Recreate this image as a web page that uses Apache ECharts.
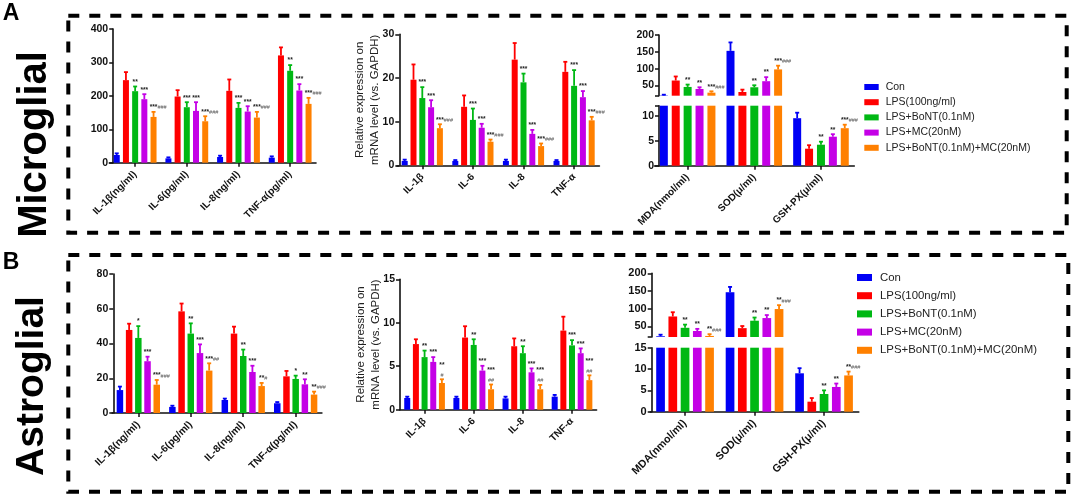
<!DOCTYPE html>
<html><head><meta charset="utf-8">
<style>html,body{margin:0;padding:0;background:#fff}#main{width:1072px;height:495px}</style>
<script src="https://cdn.jsdelivr.net/npm/echarts@6/dist/echarts.min.js"></script>
</head><body><div id="main"></div>
<script>
const groups = ['Con','LPS(100ng/ml)','LPS+BoNT(0.1nM)','LPS+MC(20nM)','LPS+BoNT(0.1nM)+MC(20nM)'];
const colors = ['#0000F5','#FF0000','#00B814','#C400E6','#FF8000'];

// Each row: one treatment group, one value per category
const a1Cats = ['IL-1β(ng/ml)','IL-6(pg/ml)','IL-8(ng/ml)','TNF-α(pg/ml)'];
const a1Vals = [[23,13,17,15],[247,198,215,321],[214,166,164,275],[190,155,153,216],[137,124,135,176]];
const a1Errs = [[28,16,21,19],[271,217,249,345],[228,181,179,292],[205,181,169,235],[152,139,152,194]];
const a1Sig  = [['','','',''],['','','',''],['**','***','***','**'],['***','***','***','***'],['***|###','***|###','***|###','***|###']];

const a2Cats = ['IL-1β','IL-6','IL-8','TNF-α'];
const a2Vals = [[1,1,1,1],[19.6,13.4,24.2,21.4],[15.4,10.4,19,18.2],[13.3,8.6,7.2,15.6],[8.5,5.4,4.4,10.3]];
const a2Errs = [[1.3,1.2,1.3,1.2],[23.1,16,28,23.7],[17.9,13,21,21.8],[14.9,9.5,8.1,17],[9.4,5.9,5,11.1]];
const a2Sig  = [['','','',''],['','','',''],['***','***','***','***'],['***','***','***','***'],['***|###','***|###','***|###','***|###']];

const a3Cats = ['MDA(nmol/ml)','SOD(μ/ml)','GSH-PX(μ/ml)'];
const a3Vals = [[21,153,9.5],[65,31,3.4],[46,45,4.2],[40,63,5.8],[29,98,7.5]];
const a3Errs = [[23,178,10.6],[77,38,4.1],[53,51,4.8],[45,75,6.3],[33,109,8.2]];
const a3Sig  = [['','',''],['','',''],['**','**','**'],['**','**','**'],['***|###','***|###','***|###']];

const b1Cats = ['IL-1β(ng/ml)','IL-6(pg/ml)','IL-8(ng/ml)','TNF-α(pg/ml)'];
const b1Vals = [[13.2,3.5,7.5,5.6],[47.8,58.5,45.7,21.1],[43.2,45.7,32.8,19.6],[29.8,34.5,23.6,16.5],[16.3,24.4,15.5,10.6]];
const b1Errs = [[15.2,4.2,8.3,6.3],[51.4,63,49.7,24.2],[50,51.6,36.5,21.5],[32.4,39.5,27.2,19.4],[19,28.6,17.3,12.3]];
const b1Sig  = [['','','',''],['','','',''],['*','**','**','*'],['***','***','***','**'],['***|###','***|##','**|#','**|###']];

const b2Cats = ['IL-1β','IL-6','IL-8','TNF-α'];
const b2Vals = [[1.35,1.35,1.3,1.5],[7.55,8.3,7.3,9.1],[6.05,7.45,6.5,7.4],[5.5,4.5,4.3,6.5],[3.07,2.35,2.35,3.4]];
const b2Errs = [[1.5,1.5,1.5,1.7],[8.1,9.6,8.2,10.7],[6.8,8.1,7.3,8],[6.05,5.05,4.75,7.05],[3.5,2.9,2.85,3.95]];
const b2Sig  = [['','','',''],['','','',''],['**','**','**','***'],['***','***','***','***'],['**|#','***|##','***|##','***|##']];

const b3Cats = ['MDA(nmol/ml)','SOD(μ/ml)','GSH-PX(μ/ml)'];
const b3Vals = [[22,146.5,9],[78,45,2.35],[46,66,4.15],[37,73.5,5.8],[23,99,8.5]];
const b3Errs = [[26.5,161.5,10.2],[90,51,3.2],[55,75,5],[43,82,6.6],[28,110,9.4]];
const b3Sig  = [['','',''],['','',''],['**','**','**'],['**','**','**'],['**|###','**|###','**|###']];

const yTitle = 'Relative expression on\nmRNA level (vs. GAPDH)';

const FONT = '"Liberation Sans", Arial, sans-serif';
const INK = '#111';
const option = {animation:false, backgroundColor:'#fff', grid:[], xAxis:[], yAxis:[], series:[],
  legend:[], graphic:[]};

function addGrid(box){ option.grid.push(Object.assign({containLabel:false},box)); return option.grid.length-1; }

function addBars(gi, d, L, lo, hi){
  groups.forEach((name,g)=>{
    const keep = v => (v>=lo ? v : null);
    option.series.push({type:'bar', name, xAxisIndex:gi, yAxisIndex:gi, barWidth:L.w,
      barGap:((L.s-L.w)/L.w*100)+'%', itemStyle:{color:colors[g]}, silent:true,
      data:d.vals[g].map(keep), z:2});
    const rows = d.vals[g].map((v,c)=>[c,v,d.errs[g][c]]);
    option.series.push({type:'custom', xAxisIndex:gi, yAxisIndex:gi, silent:true, z:3,
      encode:{x:0,y:2}, data:rows,
      renderItem(params,api){
        const c=api.value(0), v=api.value(1), e=api.value(2);
        if(v<lo || v>hi) return null;
        const x=api.coord([c,0])[0]+(g-2)*L.s;
        const yv=api.coord([c,v])[1], ye=api.coord([c,e])[1];
        const stroke={stroke:colors[g],lineWidth:1.8};
        const kids=[
          {type:'line',shape:{x1:x,y1:yv,x2:x,y2:ye},style:stroke},
          {type:'line',shape:{x1:x-2,y1:ye,x2:x+2,y2:ye},style:stroke}
        ];
        const parts=(d.sig[g][c]||'').split('|');
        const sy = L.stack && parts[1] ? ye-11 : ye-1;
        if(parts[0]) kids.push({type:'text',style:{text:parts[0],x:x,y:sy,textAlign:'center',
          textVerticalAlign:'bottom',font:'bold '+L.star+'px '+FONT,fill:'#222'}});
        if(parts[1]) kids.push({type:'text',style:{
          text:parts[1],
          x: L.stack ? x : x+parts[0].length*L.star*0.195,
          y: ye-1, textAlign: L.stack ? 'center':'left',
          textVerticalAlign:'bottom',font:L.hash+'px '+FONT,fill:'#555'}});
        return {type:'group',children:kids};
      }});
  });
}

function addX(gi,cats,L,show){
  option.xAxis.push({type:'category',gridIndex:gi,data:cats,show:show,
    axisLine:{show:true,onZero:false,lineStyle:{color:INK,width:1.6}},
    axisTick:{show:true,length:4,alignWithLabel:true,lineStyle:{color:INK,width:1.5}},
    axisLabel:{rotate:45,interval:0,margin:10,padding:[12,0,0,0],color:INK,fontFamily:FONT,fontWeight:'bold',fontSize:L.xf}});
}
function addY(gi,L,extra){
  option.yAxis.push(Object.assign({type:'value',gridIndex:gi,offset:L.off,splitLine:{show:false},
    axisLine:{show:true,lineStyle:{color:INK,width:1.6}},
    axisTick:{show:true,length:4,lineStyle:{color:INK,width:1.5}},
    axisLabel:{margin:5,color:INK,fontFamily:FONT,fontWeight:'bold',fontSize:L.yf}},extra));
}
function simplePanel(d,L){
  const gi=addGrid({left:L.left,width:L.width,top:L.top,height:L.height});
  addX(gi,d.cats,L,true);
  const extra={min:0,max:L.max,interval:L.interval};
  if(L.title) Object.assign(extra,{name:yTitle,nameLocation:'middle',nameGap:L.nameGap,nameMoveOverlap:false,
    nameTextStyle:{fontFamily:FONT,fontSize:L.tf,lineHeight:15,color:'#222'}});
  addY(gi,L,extra);
  addBars(gi,d,L,-Infinity,Infinity);
}
function brokenPanel(d,L){
  const up=addGrid({left:L.left,width:L.width,top:L.upTop,height:L.upH});
  addX(up,d.cats,L,false);
  addY(up,L,{min:L.upMin,max:200,
    axisLabel:{margin:5,color:INK,fontFamily:FONT,fontWeight:'bold',fontSize:L.yf,customValues:[50,100,150,200]},
    axisTick:{show:true,length:4,lineStyle:{color:INK,width:1.5},customValues:[L.upMin,50,100,150,200]}});
  addBars(up,d,L,L.upMin,Infinity);
  const low=addGrid({left:L.left,width:L.width,top:L.lowTop,height:L.lowH});
  addX(low,d.cats,L,true);
  addY(low,L,{min:0,max:L.lowMax,
    axisLabel:{margin:5,color:INK,fontFamily:FONT,fontWeight:'bold',fontSize:L.yf,customValues:L.lowLabels},
    axisTick:{show:true,length:4,lineStyle:{color:INK,width:1.5},customValues:L.lowTicks}});
  addBars(low,d,L,-Infinity,L.lowMax);
}

simplePanel({cats:a1Cats,vals:a1Vals,errs:a1Errs,sig:a1Sig},
  {left:109.3,width:206.7,top:29,height:133.7,max:400,interval:100,off:-3.9,w:6,s:9.2,star:6.6,hash:5.5,xf:10,yf:10.5});
simplePanel({cats:a2Cats,vals:a2Vals,errs:a2Errs,sig:a2Sig},
  {left:397,width:202.4,top:34.3,height:131,max:30,interval:10,off:-2.3,w:6,s:8.8,star:6.6,hash:5.5,xf:10,yf:10.5,title:true,nameGap:17,tf:11.5});
brokenPanel({cats:a3Cats,vals:a3Vals,errs:a3Errs,sig:a3Sig},
  {left:654.3,width:200,upTop:35,upH:60.7,upMin:20,lowTop:105.7,lowH:60,lowMax:12,lowLabels:[0,5,10],lowTicks:[0,5,10,12],
   off:-4.7,w:8,s:11.9,star:6.6,hash:5.5,xf:10,yf:10.5});
simplePanel({cats:b1Cats,vals:b1Vals,errs:b1Errs,sig:b1Sig},
  {left:112.1,width:209.8,top:274,height:139,max:80,interval:20,off:-1.2,w:6.5,s:9.2,star:6.6,hash:5.5,xf:10.2,yf:10.5});
simplePanel({cats:b2Cats,vals:b2Vals,errs:b2Errs,sig:b2Sig},
  {left:400,width:196.6,top:279.3,height:130.4,max:15,interval:5,off:0,w:6,s:8.67,star:6.6,hash:5.5,stack:true,xf:10,yf:10.5,title:true,nameGap:17,tf:11.5});
brokenPanel({cats:b3Cats,vals:b3Vals,errs:b3Errs,sig:b3Sig},
  {left:650.3,width:208.5,upTop:273.3,upH:63.7,upMin:20,lowTop:347.7,lowH:64,lowMax:15,lowLabels:[0,5,10,15],lowTicks:[0,5,10,15],
   off:-1.4,w:8.7,s:12.25,star:6.6,hash:5.5,xf:10.7,yf:11});

option.legend.push({orient:'vertical',left:864.3,top:81.5,padding:0,itemWidth:14.4,itemHeight:6,itemGap:4.2,icon:'rect',
  selectedMode:false,data:groups,textStyle:{fontFamily:FONT,fontSize:10.5,color:'#222',padding:[0,0,0,2]}});
option.legend.push({orient:'vertical',left:857,top:272,padding:0,itemWidth:15,itemHeight:7,itemGap:7.2,icon:'rect',
  selectedMode:false,data:groups,textStyle:{fontFamily:FONT,fontSize:11.4,color:'#222',padding:[0,0,0,3]}});

function box(x,y,w,h){
  return {type:'rect',silent:true,shape:{x,y,width:w,height:h},
    style:{fill:'none',stroke:'#000',lineWidth:4,lineDash:[11,10],lineCap:'butt'}};
}
function bigText(text,x,y,size,rot){
  return {type:'text',silent:true,x,y,rotation:rot,
    style:{text,font:'bold '+size+'px '+FONT,fill:'#000',textAlign:'center',textVerticalAlign:'middle'}};
}
option.graphic=[
  box(68.3,15.7,998.4,217),
  box(68.3,255,1000,236.7),
  bigText('A',11,14,23,0),
  bigText('B',11,263,23,0),
  bigText('Microglial',35,144.5,40,Math.PI/2),
  bigText('Astroglial',32,386,39,Math.PI/2)
];
echarts.init(document.getElementById('main')).setOption(option);
</script></body></html>
